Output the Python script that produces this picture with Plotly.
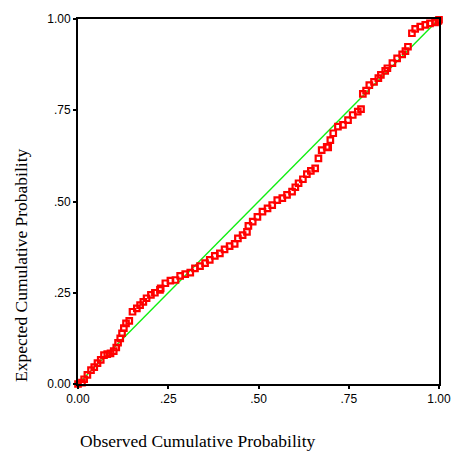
import plotly.graph_objects as go

observed = [0.0, 0.011, 0.017, 0.026, 0.036, 0.045, 0.054, 0.063, 0.072, 0.081, 0.09, 0.099,
            0.106, 0.111, 0.117, 0.122, 0.127, 0.133, 0.142, 0.151, 0.163, 0.172, 0.181, 0.19,
            0.202, 0.213, 0.227, 0.229, 0.242, 0.256, 0.27, 0.283, 0.297, 0.311, 0.324, 0.338,
            0.352, 0.365, 0.379, 0.393, 0.406, 0.42, 0.434, 0.443, 0.456, 0.468, 0.472, 0.484,
            0.497, 0.511, 0.525, 0.538, 0.552, 0.566, 0.579, 0.593, 0.602, 0.611, 0.623, 0.634,
            0.645, 0.657, 0.666, 0.675, 0.689, 0.693, 0.699, 0.707, 0.72, 0.734, 0.748, 0.761,
            0.775, 0.784, 0.789, 0.798, 0.807, 0.82, 0.832, 0.839, 0.851, 0.857, 0.871, 0.884,
            0.898, 0.907, 0.914, 0.925, 0.934, 0.948, 0.962, 0.975, 0.989, 0.998, 1.0]
expected = [0.0, 0.004, 0.013, 0.025, 0.038, 0.046, 0.057, 0.066, 0.079, 0.082, 0.084, 0.09,
            0.1, 0.113, 0.125, 0.139, 0.153, 0.166, 0.173, 0.198, 0.207, 0.216, 0.225, 0.235,
            0.244, 0.25, 0.258, 0.262, 0.276, 0.283, 0.285, 0.296, 0.301, 0.305, 0.317, 0.323,
            0.331, 0.34, 0.351, 0.358, 0.369, 0.378, 0.384, 0.399, 0.408, 0.417, 0.433, 0.445,
            0.458, 0.472, 0.481, 0.49, 0.504, 0.509, 0.518, 0.527, 0.539, 0.55, 0.561, 0.575,
            0.584, 0.591, 0.618, 0.641, 0.65, 0.648, 0.668, 0.687, 0.705, 0.71, 0.723, 0.737,
            0.746, 0.753, 0.795, 0.804, 0.819, 0.828, 0.838, 0.847, 0.858, 0.865, 0.879, 0.892,
            0.903, 0.912, 0.924, 0.961, 0.973, 0.979, 0.984, 0.988, 0.991, 0.995, 0.998]

ref_line = [0.0, 1.0]
tick_vals = [0.0, 0.25, 0.5, 0.75, 1.0]
tick_text = ["0.00", ".25", ".50", ".75", "1.00"]

fig = go.Figure()
fig.add_trace(go.Scatter(x=ref_line, y=ref_line, mode="lines",
                         line=dict(color="#11ee11", width=1.4), hoverinfo="skip"))
fig.add_trace(go.Scatter(x=observed, y=expected, mode="markers", cliponaxis=False,
                         marker=dict(symbol="square-open", size=5.5, color="#ff0000",
                                     line=dict(width=2.2, color="#ff0000"))))

axis_common = dict(range=[0, 1], tickvals=tick_vals, ticktext=tick_text, showgrid=False,
                   zeroline=False, showline=True, linecolor="black", linewidth=2, mirror=True,
                   ticks="outside", ticklen=3, tickwidth=2, tickcolor="black",
                   tickfont=dict(family="Liberation Sans, Arial", size=12, color="black"))
fig.update_xaxes(**axis_common)
fig.update_yaxes(**axis_common)

fig.update_layout(
    width=463, height=459, showlegend=False,
    margin=dict(l=78, r=19, t=19, b=75),
    paper_bgcolor="white", plot_bgcolor="white",
    annotations=[
        dict(text="Observed Cumulative Probability", xref="paper", yref="paper",
             x=0.0, y=-0.156, xanchor="left", yanchor="middle", showarrow=False,
             font=dict(family="Liberation Serif, Times New Roman", size=17.5, color="black")),
        dict(text="Expected Cumulative Probability", xref="paper", yref="paper",
             x=-0.158, y=0.326, xanchor="center", yanchor="middle", showarrow=False,
             textangle=-90,
             font=dict(family="Liberation Serif, Times New Roman", size=17.5, color="black")),
    ],
)

fig.write_html("out.html")
